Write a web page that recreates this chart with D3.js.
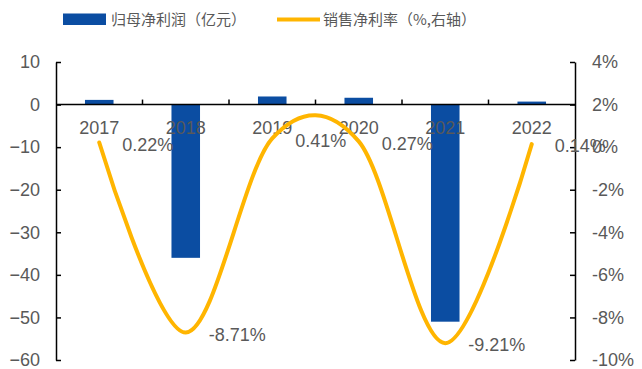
<!DOCTYPE html>
<html>
<head>
<meta charset="utf-8">
<script src="https://cdn.jsdelivr.net/npm/d3@7/dist/d3.min.js"></script>
<style>
  html, body { margin: 0; padding: 0; background: #fff; }
  svg { display: block; }
  .num { font-family: "Liberation Sans", Arial, sans-serif; font-size: 18px; fill: #595959; }
  .cjk { font-family: "Noto Sans CJK SC", sans-serif; font-size: 15px; fill: #595959; }
</style>
</head>
<body>
<svg id="chart" width="642" height="369"></svg>
<script>
// Annual figures
const years = ["2017", "2018", "2019", "2020", "2021", "2022"];
const netProfit = [1.1, -36.0, 1.9, 1.6, -51.0, 0.7];          // 归母净利润, 亿元
const netMargin = [0.22, -8.71, 0.41, 0.27, -9.21, 0.14];      // 销售净利率, %
const leftTicks = [10, 0, -10, -20, -30, -40, -50, -60];
const rightTicks = [4, 2, 0, -2, -4, -6, -8, -10];
const seriesNames = ["归母净利润（亿元）", "销售净利率（%,右轴）"];

const barColor = "#0B4DA2";
const lineColor = "#FFB500";

const svg = d3.select("#chart");
const plot = { left: 56, right: 575, top: 62, bottom: 360 };

const x = d3.scaleBand().domain(years).range([plot.left, plot.right]).padding(0);
const yL = d3.scaleLinear().domain([-60, 10]).range([plot.bottom, plot.top]);
const yR = d3.scaleLinear().domain([-10, 4]).range([plot.bottom, plot.top]);

// Bars
const barW = x.bandwidth() * 0.33;
svg.append("g").selectAll("rect")
  .data(years)
  .join("rect")
  .attr("x", (d) => x(d) + x.bandwidth() / 2 - barW / 2)
  .attr("y", (d, i) => yL(Math.max(0, netProfit[i])))
  .attr("width", barW)
  .attr("height", (d, i) => Math.abs(yL(netProfit[i]) - yL(0)))
  .attr("fill", barColor);

// Left axis (ticks point inward)
const axL = svg.append("g")
  .attr("transform", `translate(${plot.left},0)`)
  .call(d3.axisLeft(yL).tickValues(leftTicks).tickSize(-5).tickPadding(16).tickSizeOuter(0));
axL.select(".domain").attr("stroke", "#000").attr("stroke-width", 1.5);
axL.selectAll(".tick line").attr("stroke", "#000").attr("stroke-width", 1.5);
axL.selectAll("text").attr("class", "num").attr("font-size", null).attr("font-family", null).attr("fill", null);

// Right axis
const axR = svg.append("g")
  .attr("transform", `translate(${plot.right},0)`)
  .call(d3.axisRight(yR).tickValues(rightTicks).tickSize(-5).tickPadding(17).tickSizeOuter(0)
    .tickFormat((d) => d + "%"));
axR.select(".domain").attr("stroke", "#000").attr("stroke-width", 1.5);
axR.selectAll(".tick line").attr("stroke", "#000").attr("stroke-width", 1.5);
axR.selectAll("text").attr("class", "num").attr("font-size", null).attr("font-family", null).attr("fill", null);

// Category axis on the zero line, with boundary ticks pointing up
const zeroY = yL(0);
svg.append("line")
  .attr("x1", plot.left).attr("x2", plot.right)
  .attr("y1", zeroY).attr("y2", zeroY)
  .attr("stroke", "#000").attr("stroke-width", 1.5);
svg.append("g").selectAll("line")
  .data(years.slice(1))
  .join("line")
  .attr("x1", (d) => x(d)).attr("x2", (d) => x(d))
  .attr("y1", zeroY).attr("y2", zeroY - 5)
  .attr("stroke", "#000").attr("stroke-width", 1.5);
svg.append("g").selectAll("text")
  .data(years)
  .join("text")
  .attr("class", "num")
  .attr("x", (d) => x(d) + x.bandwidth() / 2)
  .attr("y", zeroY + 29.5)
  .attr("text-anchor", "middle")
  .text((d) => d);

// Smoothed margin line
const pts = years.map((d, i) => [x(d) + x.bandwidth() / 2, yR(netMargin[i])]);
svg.append("path")
  .attr("d", d3.line().curve(d3.curveCardinal.tension(0))(pts))
  .attr("fill", "none")
  .attr("stroke", lineColor)
  .attr("stroke-width", 4)
  .attr("stroke-linecap", "round");

// Margin value labels
svg.append("g").selectAll("text")
  .data(pts)
  .join("text")
  .attr("class", "num")
  .attr("x", (p) => p[0] + 23)
  .attr("y", (p) => p[1] + 2)
  .attr("dy", "0.35em")
  .text((p, i) => netMargin[i].toFixed(2) + "%");

// Legend
const lg = svg.append("g");
lg.append("rect").attr("x", 63).attr("y", 13.5).attr("width", 43).attr("height", 11.5).attr("fill", barColor);
lg.append("text").attr("class", "cjk").attr("x", 111).attr("y", 19.5).attr("dy", "0.36em").text(seriesNames[0]);
lg.append("line").attr("x1", 277).attr("x2", 320).attr("y1", 19.5).attr("y2", 19.5)
  .attr("stroke", lineColor).attr("stroke-width", 4);
lg.append("text").attr("class", "cjk").attr("x", 323).attr("y", 19.5).attr("dy", "0.36em").text(seriesNames[1]);
</script>
</body>
</html>
